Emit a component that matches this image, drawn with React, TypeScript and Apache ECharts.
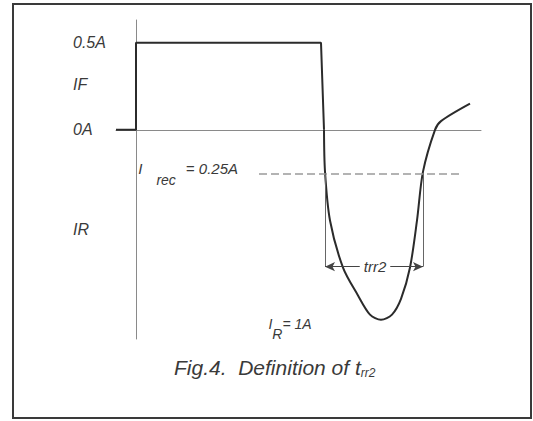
import React, { useEffect, useRef } from 'react';
import * as echarts from 'echarts';

// time (arbitrary units, 0 = vertical axis) and current (A)
const PULSE_T = [-20, 0, 0, 185, 188];
const PULSE_I = [0, 0, 0.5, 0.5, 0];
const CURVE_T = [188, 189, 194, 207, 222, 234, 245, 256, 265, 274, 281, 287, 299, 305, 334];
const CURVE_I = [0, -0.24, -0.52, -0.79, -0.95, -1.06, -1.09, -1.06, -0.97, -0.79, -0.52, -0.24, 0, 0.05, 0.15];

const Y_TICK_VALUES = [0.5, 0.26, 0, -0.57];
const Y_TICK_LABELS = ['0.5A', 'IF', '0A', 'IR'];

const I_REC = -0.25;
const I_REC_SPAN = [123, 323];
const TRR_T = [189, 287];
const TRR_I = -0.785;
const TRR_TOP = -0.25;
const TRR_LABEL_T = 239;
const IR_LABEL_POS = [154, -1.13];

const X_RANGE = [-20, 345];
const Y_RANGE = [-1.2, 0.63];

export default function App() {
  const ref = useRef<HTMLDivElement>(null);
  useEffect(() => {
    const chart = echarts.init(ref.current!, null, { renderer: 'svg' });
    const font = "'Liberation Sans', Arial, sans-serif";
    const ink = '#2b2b2b';
    const txt = '#3a3a3a';
    const axisStyle = { color: '#8a8a8a', width: 1 };
    chart.setOption({
      animation: false,
      backgroundColor: '#ffffff',
      title: {
        text: 'Fig.4.  Definition of t{s|rr2}',
        left: 174,
        top: 355,
        padding: 0,
        textStyle: {
          fontSize: 21,
          fontStyle: 'italic',
          fontWeight: 'normal',
          color: txt,
          fontFamily: font,
          rich: {
            s: { fontSize: 12, fontStyle: 'italic', color: txt, fontFamily: font, padding: [12, 0, 0, 0], verticalAlign: 'middle' },
          },
        },
      },
      grid: { left: 116, right: 52, top: 20, bottom: 82 },
      xAxis: {
        type: 'value',
        min: X_RANGE[0],
        max: X_RANGE[1],
        axisLine: { show: true, onZero: true, lineStyle: axisStyle },
        axisTick: { show: false },
        axisLabel: { show: false },
        splitLine: { show: false },
      },
      yAxis: {
        type: 'value',
        min: Y_RANGE[0],
        max: Y_RANGE[1],
        axisLine: { show: true, onZero: true, lineStyle: axisStyle },
        axisTick: { show: false },
        splitLine: { show: false },
        axisLabel: {
          customValues: Y_TICK_VALUES,
          formatter: (v: number) => {
            const i = Y_TICK_VALUES.findIndex((x) => Math.abs(x - v) < 1e-6);
            return i >= 0 ? Y_TICK_LABELS[i] : '';
          },
          align: 'left',
          margin: 43,
          fontSize: 16,
          fontStyle: 'italic',
          color: txt,
          fontFamily: font,
        },
      },
      graphic: [
        {
          type: 'rect',
          silent: true,
          shape: { x: 13, y: 4, width: 518, height: 414 },
          style: { fill: 'none', stroke: '#3a3a3a', lineWidth: 2 },
        },
      ],
      series: [
        {
          type: 'line',
          data: PULSE_T.map((t, i) => [t, PULSE_I[i]]),
          symbol: 'none',
          lineStyle: { color: ink, width: 2 },
          z: 3,
          silent: true,
        },
        {
          type: 'line',
          data: CURVE_T.map((t, i) => [t, CURVE_I[i]]),
          symbol: 'none',
          smooth: 0.3,
          lineStyle: { color: ink, width: 2 },
          z: 3,
          silent: true,
          markLine: {
            silent: true,
            symbol: ['none', 'none'],
            label: { show: false },
            emphasis: { disabled: true },
            data: [
              [
                {
                  coord: [I_REC_SPAN[0], I_REC],
                  lineStyle: { type: [8, 4], color: '#9a9a9a', width: 1.5 },
                  label: {
                    show: true,
                    position: 'start',
                    distance: 21,
                    formatter: '{i|I}{s|rec}{e|= 0.25A}',
                    rich: {
                      i: { fontSize: 15, fontStyle: 'italic', color: txt, fontFamily: font, padding: [0, 0, 9, 0], verticalAlign: 'middle' },
                      s: { fontSize: 14, fontStyle: 'italic', color: txt, fontFamily: font, padding: [14, 10, 0, 14], verticalAlign: 'middle' },
                      e: { fontSize: 15, fontStyle: 'italic', color: txt, fontFamily: font, padding: [0, 0, 9, 0], verticalAlign: 'middle' },
                    },
                  },
                },
                { coord: [I_REC_SPAN[1], I_REC] },
              ],
              [
                { coord: [TRR_T[0], TRR_TOP], lineStyle: { type: 'solid', color: '#666', width: 1 } },
                { coord: [TRR_T[0], TRR_I] },
              ],
              [
                { coord: [TRR_T[1], TRR_TOP], lineStyle: { type: 'solid', color: '#666', width: 1 } },
                { coord: [TRR_T[1], TRR_I] },
              ],
              [
                { coord: [TRR_T[0], TRR_I], symbol: 'arrow', symbolSize: [7, 10], lineStyle: { type: 'solid', color: '#444', width: 1 } },
                { coord: [TRR_T[1], TRR_I], symbol: 'arrow', symbolSize: [7, 10] },
              ],
            ],
          },
          markPoint: {
            silent: true,
            data: [
              {
                coord: IR_LABEL_POS,
                symbol: 'circle',
                symbolSize: 1,
                itemStyle: { color: 'transparent' },
                label: {
                  show: true,
                  position: 'inside',
                  formatter: '{i|I}{s|R}{e|= 1A}',
                  rich: {
                    i: { fontSize: 14, fontStyle: 'italic', color: txt, fontFamily: font, padding: [0, 0, 6, 0], verticalAlign: 'middle' },
                    s: { fontSize: 14, fontStyle: 'italic', color: txt, fontFamily: font, padding: [14, 0, 0, 0], verticalAlign: 'middle' },
                    e: { fontSize: 14, fontStyle: 'italic', color: txt, fontFamily: font, padding: [0, 0, 6, 0], verticalAlign: 'middle' },
                  },
                },
              },
              {
                coord: [TRR_LABEL_T, TRR_I],
                symbol: 'circle',
                symbolSize: 1,
                itemStyle: { color: 'transparent' },
                label: {
                  show: true,
                  position: 'inside',
                  formatter: 'trr2',
                  fontSize: 15,
                  fontStyle: 'italic',
                  color: txt,
                  fontFamily: font,
                  backgroundColor: '#ffffff',
                  padding: [0, 4],
                },
              },
            ],
          },
        },
      ],
    });
    return () => chart.dispose();
  }, []);
  return <div ref={ref} style={{ position: 'absolute', left: 0, top: 0, width: 533, height: 421 }} />;
}
